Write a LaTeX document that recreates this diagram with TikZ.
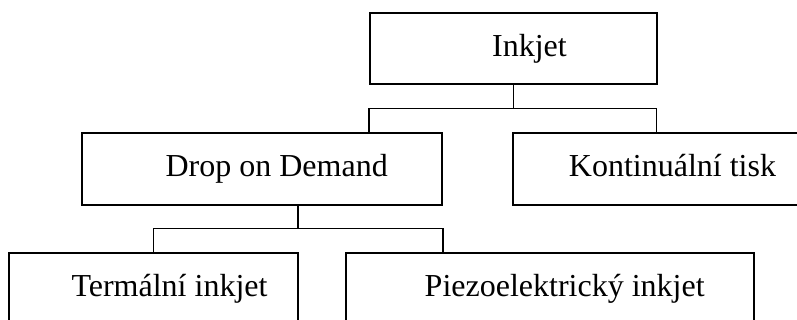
\documentclass[tikz,border=0pt]{standalone}
\usepackage{fontspec}
\setmainfont{Liberation Serif}

\begin{document}
\begin{tikzpicture}[x=0.75pt,y=0.75pt,yscale=-1,xscale=1,
    box/.style={draw, line width=1.2pt, minimum height=54pt, inner sep=0pt},
    txt/.style={font=\fontsize{24}{28}\selectfont, inner sep=0pt, text height=16.5pt, text depth=5pt}]
        \useasboundingbox (0,0) rectangle (797,320);
        \clip (0,0) rectangle (797,320);

        \node [box, minimum width=215.25pt, minimum height=53.25pt, label={[txt, xshift=12pt]center:Inkjet}] (inkjet) at (513.5,48.5) {};
        \node [box, minimum width=270pt, label={[txt, xshift=11pt]center:Drop on Demand}] (dod) at (262,169) {};
        \node [box, minimum width=215.25pt, label={[txt, xshift=12pt]center:Kontinuální tisk}] (kont) at (656.5,169) {};
        \node [box, minimum width=216.75pt, label={[txt, xshift=12pt]center:Termální inkjet}] (term) at (153.5,289) {};
        \node [box, minimum width=306pt, label={[txt, xshift=11pt]center:Piezoelektrický inkjet}] (piezo) at (550,289) {};

        \coordinate (busA) at (513.5,108.5);
        \coordinate (busB) at (298,228.5);
        \draw [line width=1.2pt] (inkjet.south) -- (busA);
        \draw [line width=1.2pt] (dod.north -| inkjet.west) |- (busA) -| (kont.north);
        \draw [line width=1.2pt] (busB |- dod.south) -- (busB);
        \draw [line width=1.2pt] (term.north) |- (busB) -| (piezo.north -| dod.east);
    \end{tikzpicture}
\end{document}
